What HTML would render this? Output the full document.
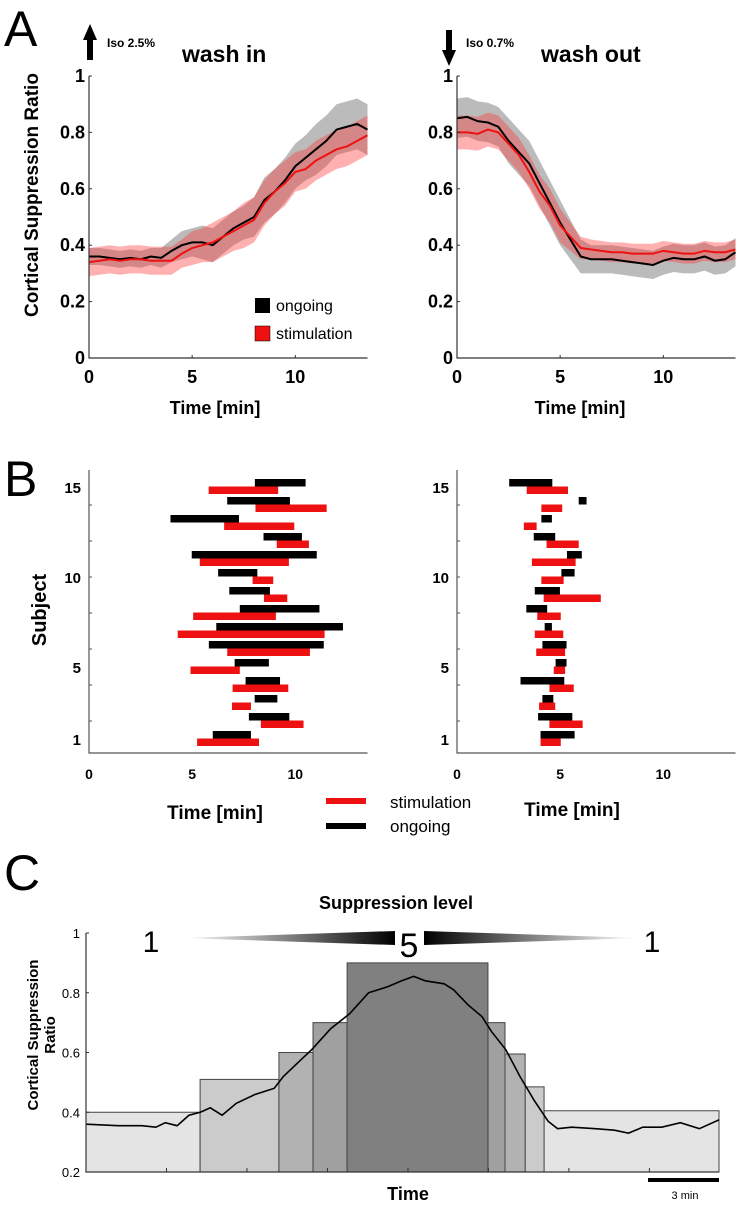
<!DOCTYPE html>
<html><head><meta charset="utf-8"><style>
html,body{margin:0;padding:0;background:#fff;}
svg{display:block;font-family:"Liberation Sans",sans-serif;}
.b{font-weight:bold;}
</style></head><body>
<svg id="fig" width="741" height="1205" viewBox="0 0 741 1205" xmlns="http://www.w3.org/2000/svg">
<text x="4" y="46" font-size="50">A</text>
<text x="4" y="496" font-size="50">B</text>
<text x="4" y="890" font-size="50">C</text>
<g><rect x="87" y="38" width="6" height="22" fill="#000"/><polygon points="83,40 97,40 90,24" fill="#000"/></g>
<text x="107" y="47" font-size="12" class="b">Iso 2.5%</text>
<text x="182" y="62" font-size="23" class="b">wash in</text>
<g><rect x="446" y="30" width="6" height="22" fill="#000"/><polygon points="442,50 456,50 449,66" fill="#000"/></g>
<text x="466" y="47" font-size="12" class="b">Iso 0.7%</text>
<text x="541" y="62" font-size="23" class="b">wash out</text>
<text transform="translate(38,195) rotate(-90)" text-anchor="middle" font-size="19" class="b">Cortical Suppression Ratio</text>
<text x="215" y="414" text-anchor="middle" font-size="18" class="b">Time [min]</text>
<text x="580" y="414" text-anchor="middle" font-size="18" class="b">Time [min]</text>
<g>
<rect x="255" y="298" width="15" height="15" fill="#000"/>
<text x="276" y="311" font-size="16">ongoing</text>
<rect x="255" y="326" width="15" height="15" fill="#ee1111" stroke="#000" stroke-width="0.5"/>
<text x="276" y="339" font-size="16">stimulation</text>
</g>
<text transform="translate(46,610) rotate(-90)" text-anchor="middle" font-size="20" class="b">Subject</text>
<text x="215" y="819" text-anchor="middle" font-size="19" class="b">Time [min]</text>
<text x="572" y="816" text-anchor="middle" font-size="19" class="b">Time [min]</text>
<rect x="326" y="798" width="40" height="6" fill="#ee1111"/>
<text x="390" y="808" font-size="17">stimulation</text>
<rect x="326" y="823" width="40" height="6" fill="#000"/>
<text x="390" y="832" font-size="17">ongoing</text>
<text x="396" y="909" text-anchor="middle" font-size="18" class="b">Suppression level</text>
<defs>
<linearGradient id="gl" x1="0" x2="1" y1="0" y2="0"><stop offset="0" stop-color="#fff"/><stop offset="1" stop-color="#000"/></linearGradient>
<linearGradient id="gr" x1="0" x2="1" y1="0" y2="0"><stop offset="0" stop-color="#000"/><stop offset="1" stop-color="#fff"/></linearGradient>
</defs>
<polygon points="182,938 395,931 395,945" fill="url(#gl)"/>
<polygon points="424,931 424,945 638,938" fill="url(#gr)"/>
<text x="151" y="952" text-anchor="middle" font-size="30">1</text>
<text x="409" y="957" text-anchor="middle" font-size="34">5</text>
<text x="652" y="952" text-anchor="middle" font-size="30">1</text>
<text transform="translate(38,1035) rotate(-90)" text-anchor="middle" font-size="15" class="b">Cortical Suppression</text>
<text transform="translate(55,1035) rotate(-90)" text-anchor="middle" font-size="15" class="b">Ratio</text>
<text x="408" y="1200" text-anchor="middle" font-size="18" class="b">Time</text>
<rect x="648" y="1178" width="71" height="4" fill="#000"/>
<text x="685" y="1199" text-anchor="middle" font-size="11">3 min</text>
<g id="layer"></g>
</svg>
<script>
const tA = [0,0.5,1,1.5,2,2.5,3,3.5,4,4.5,5,5.5,6,6.5,7,7.5,8,8.5,9,9.5,10,10.5,11,11.5,12,12.5,13,13.5];
const inOngoing = [0.36,0.36,0.355,0.35,0.355,0.35,0.36,0.355,0.38,0.40,0.41,0.41,0.40,0.43,0.46,0.48,0.50,0.56,0.59,0.63,0.68,0.71,0.74,0.77,0.81,0.82,0.83,0.81];
const inOngoingSd = [0.03,0.03,0.03,0.03,0.03,0.03,0.03,0.035,0.04,0.05,0.05,0.06,0.06,0.06,0.06,0.06,0.07,0.08,0.08,0.08,0.08,0.08,0.09,0.09,0.09,0.09,0.09,0.09];
const inStim = [0.34,0.345,0.35,0.345,0.35,0.35,0.345,0.345,0.345,0.37,0.39,0.40,0.41,0.43,0.45,0.47,0.49,0.55,0.59,0.62,0.66,0.67,0.70,0.72,0.74,0.75,0.77,0.79];
const inStimSd = [0.05,0.05,0.05,0.05,0.05,0.05,0.05,0.05,0.05,0.05,0.06,0.06,0.07,0.07,0.07,0.08,0.08,0.08,0.08,0.08,0.07,0.07,0.07,0.07,0.07,0.07,0.07,0.07];
const outOngoing = [0.85,0.855,0.84,0.835,0.82,0.77,0.73,0.69,0.62,0.55,0.48,0.42,0.36,0.35,0.35,0.35,0.345,0.34,0.335,0.33,0.345,0.355,0.35,0.35,0.36,0.345,0.35,0.375];
const outOngoingSd = [0.07,0.07,0.07,0.07,0.07,0.08,0.08,0.08,0.08,0.08,0.08,0.07,0.06,0.05,0.05,0.05,0.05,0.05,0.05,0.05,0.05,0.05,0.05,0.05,0.05,0.05,0.05,0.05];
const outStim = [0.80,0.80,0.795,0.81,0.80,0.76,0.72,0.66,0.59,0.54,0.47,0.43,0.39,0.385,0.38,0.375,0.375,0.37,0.37,0.37,0.38,0.375,0.37,0.37,0.38,0.375,0.375,0.385];
const outStimSd = [0.06,0.06,0.06,0.06,0.06,0.06,0.06,0.06,0.06,0.06,0.06,0.05,0.04,0.035,0.035,0.035,0.035,0.035,0.035,0.035,0.035,0.035,0.035,0.035,0.035,0.035,0.035,0.035];
const yTicksA = [0,0.2,0.4,0.6,0.8,1];
const yTickLabelsA = ["0","0.2","0.4","0.6","0.8","1"];
const xTicks = [0,5,10];
const xTickLabels = ["0","5","10"];

const subjects = [1,2,3,4,5,6,7,8,9,10,11,12,13,14,15];
const inOngStart = [6.0,7.75,8.03,7.59,7.06,5.81,6.17,7.31,6.8,6.26,4.98,8.46,3.95,6.7,8.04];
const inOngEnd   = [7.85,9.71,9.13,9.26,8.72,11.38,12.31,11.17,8.77,8.16,11.04,10.32,7.27,9.74,10.5];
const inStimStart= [5.24,8.33,6.93,6.96,4.92,6.7,4.3,5.05,8.48,7.93,5.37,9.1,6.55,8.07,5.8];
const inStimEnd  = [8.24,10.4,7.85,9.66,7.31,10.71,11.42,9.06,9.61,8.93,9.69,10.66,9.95,11.52,9.17];
const outOngStart= [4.05,3.93,4.14,3.08,4.78,4.14,4.25,3.36,3.77,5.06,5.33,3.72,4.09,5.9,2.53];
const outOngEnd  = [5.7,5.59,4.67,5.2,5.31,5.31,4.6,4.37,4.99,5.7,6.05,4.76,4.6,6.28,4.62];
const outStimStart=[4.05,4.48,3.98,4.48,4.69,3.84,3.77,3.89,4.2,4.09,3.63,4.34,3.24,4.09,3.38];
const outStimEnd = [5.03,6.09,4.76,5.66,5.24,5.24,5.15,5.03,6.97,5.17,5.75,5.9,3.86,5.1,5.38];
const yTicksB = [1,5,10,15];
const yTickLabelsB = ["1","5","10","15"];

const levelEdges = [0,4.82,8.15,9.59,11.03,16.98,17.7,18.55,19.35,26.74];
const levelHeights = [0.40,0.51,0.60,0.70,0.90,0.70,0.595,0.485,0.405];
const levelNums = [1,2,3,4,5,4,3,2,1];
const cTime = [0,1.36,2.36,2.95,3.35,3.85,4.35,4.83,5.25,5.75,6.35,7.15,7.95,8.34,9.14,9.54,10.34,11.14,11.94,12.74,13.34,13.84,14.33,15.13,15.53,16.13,16.73,17.13,17.73,18.33,18.93,19.52,19.92,20.52,21.52,22.32,22.92,23.52,24.32,25.11,25.91,26.75];
const cValue = [0.36,0.355,0.355,0.35,0.365,0.355,0.39,0.40,0.415,0.39,0.43,0.46,0.48,0.52,0.58,0.61,0.68,0.73,0.80,0.82,0.84,0.855,0.84,0.83,0.81,0.76,0.72,0.67,0.61,0.52,0.44,0.37,0.345,0.35,0.345,0.34,0.33,0.35,0.35,0.365,0.345,0.375];
const yTicksC = [0.2,0.4,0.6,0.8,1];
const yTickLabelsC = ["0.2","0.4","0.6","0.8","1"];

const NS = "http://www.w3.org/2000/svg";
const layer = document.getElementById('layer');
function mk(tag, attrs, parent){
  const e = document.createElementNS(NS, tag);
  for (const k in attrs) e.setAttribute(k, attrs[k]);
  (parent||layer).appendChild(e);
  return e;
}
function lin(d0,d1,r0,r1){ return v => r0 + (v-d0)/(d1-d0)*(r1-r0); }

function panelA(x0, name, ong, ongSd, stim, stimSd){
  const X = lin(0,13.5,x0,x0+278.5);
  const Y = lin(0,1,358,76);
  const g = mk('g',{});
  
  
  function band(m, sd, fill, op, nm){
    let up = tA.map((t,i)=>X(t)+','+Y(m[i]+sd[i]));
    let lo = tA.map((t,i)=>X(t)+','+Y(m[i]-sd[i])).reverse();
    const p = mk('polygon',{points: up.concat(lo).join(' '), fill: fill, 'fill-opacity': op},g);
    
    
  }
  function line(m, col, nm){
    const p = mk('polyline',{points: tA.map((t,i)=>X(t)+','+Y(m[i])).join(' '), fill:'none', stroke: col, 'stroke-width':2},g);
    
    
  }
  band(ong, ongSd, '#aaaaaa', 0.8, 'ongoing-band');
  band(stim, stimSd, '#ff3030', 0.38, 'stimulation-band');
  line(ong, '#000', 'ongoing-line');
  line(stim, '#ee1111', 'stimulation-line');
  const ax = mk('path',{d:`M${X(0)},${Y(1)} V${Y(0)} H${X(13.5)}`, fill:'none', stroke:'#333', 'stroke-width':1.2},g);
  
  
  yTicksA.forEach((v,i)=>{
    mk('line',{x1:X(0),x2:X(0)+3,y1:Y(v),y2:Y(v),stroke:'#333'},g);
    const t = mk('text',{x:X(0)-4,y:Y(v)+6,'text-anchor':'end','font-size':18,'font-weight':'bold'},g);
    t.textContent = yTickLabelsA[i];
    
    
  });
  xTicks.forEach((v,i)=>{
    mk('line',{x1:X(v),x2:X(v),y1:Y(0),y2:Y(0)-3,stroke:'#333'},g);
    const t = mk('text',{x:X(v),y:383,'text-anchor':'middle','font-size':18,'font-weight':'bold'},g);
    t.textContent = xTickLabels[i];
    
    
  });
}
panelA(89,'wash-in-chart',inOngoing,inOngoingSd,inStim,inStimSd);
panelA(457,'wash-out-chart',outOngoing,outOngoingSd,outStim,outStimSd);

function panelB(x0, name, os, oe, ss, se){
  const X = lin(0,13.5,x0,x0+278.5);
  const Y = lin(1,15,739,487);
  const g = mk('g',{});
  
  
  subjects.forEach((s,i)=>{
    const b = mk('rect',{x:X(os[i]),y:Y(s)-8,width:X(oe[i])-X(os[i]),height:7.5,fill:'#000'},g);
    
    
    const r = mk('rect',{x:X(ss[i]),y:Y(s)-0.5,width:X(se[i])-X(ss[i]),height:7.5,fill:'#ee1111'},g);
    
    
  });
  const ax = mk('path',{d:`M${X(0)},470 V753 H${X(13.5)}`, fill:'none', stroke:'#555', 'stroke-width':1.2},g);
  
  
  for (let s=2; s<=15; s+=2) mk('line',{x1:X(0),x2:X(0)+3,y1:Y(s),y2:Y(s),stroke:'#555'},g);
  yTicksB.forEach((v,i)=>{
    const t = mk('text',{x:X(0)-8,y:Y(v)+6,'text-anchor':'end','font-size':15,'font-weight':'bold'},g);
    t.textContent = yTickLabelsB[i];
    
    
  });
  xTicks.forEach((v,i)=>{
    const t = mk('text',{x:X(v),y:779,'text-anchor':'middle','font-size':14,'font-weight':'bold'},g);
    t.textContent = xTickLabels[i];
    
    
  });
}
panelB(89,'wash-in-subject-chart',inOngStart,inOngEnd,inStimStart,inStimEnd);
panelB(457,'wash-out-subject-chart',outOngStart,outOngEnd,outStimStart,outStimEnd);

(function(){
  const X = lin(0,26.74,86,719);
  const Y = lin(0.2,1,1172,933);
  const g = mk('g',{});
  
  
  const cols = {1:'#e4e4e4',2:'#cbcbcb',3:'#b2b2b2',4:'#a0a0a0',5:'#808080'};
  const order = levelHeights.map((h,i)=>i).sort((a,b)=>levelHeights[a]-levelHeights[b]);
  order.forEach(i=>{
    const r = mk('rect',{x:X(levelEdges[i]),y:Y(levelHeights[i]),width:X(levelEdges[i+1])-X(levelEdges[i]),height:Y(0.2)-Y(levelHeights[i]),fill:cols[levelNums[i]],stroke:'#444','stroke-width':1},g);
    
    
  });
  const p = mk('polyline',{points: cTime.map((t,i)=>X(t)+','+Y(cValue[i])).join(' '), fill:'none', stroke:'#000','stroke-width':1.6},g);
  
  
  const ax = mk('path',{d:`M86,${Y(1)} V${Y(0.2)} H719`, fill:'none', stroke:'#333', 'stroke-width':1.2},g);
  
  
  for (let t=3.4; t<26.7; t+=3.4) mk('line',{x1:X(t),x2:X(t),y1:Y(0.2),y2:Y(0.2)-4,stroke:'#333'},g);
  yTicksC.forEach((v,i)=>{
    mk('line',{x1:86,x2:89,y1:Y(v),y2:Y(v),stroke:'#333'},g);
    const t = mk('text',{x:80,y:Y(v)+5,'text-anchor':'end','font-size':13},g);
    t.textContent = yTickLabelsC[i];
    
    
  });
})();
</script>
</body></html>
